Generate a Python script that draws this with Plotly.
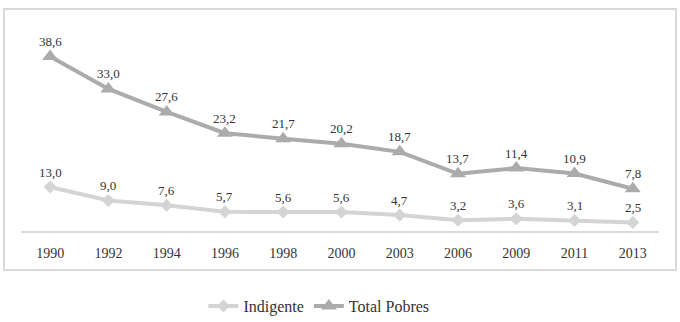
import plotly.graph_objects as go

years = ["1990", "1992", "1994", "1996", "1998", "2000", "2003", "2006", "2009", "2011", "2013"]
indigente = [13.0, 9.0, 7.6, 5.7, 5.6, 5.6, 4.7, 3.2, 3.6, 3.1, 2.5]
# Total Pobres line is drawn stacked on Indigente; increments
total_pobres_plot = [38.6, 33.0, 27.6, 23.2, 21.7, 20.2, 18.7, 13.7, 15.0, 13.9, 10.0]
total_pobres_labels = [38.6, 33.0, 27.6, 23.2, 21.7, 20.2, 18.7, 13.7, 11.4, 10.9, 7.8]


def fmt(v):
    return f"{v:.1f}".replace(".", ",")


FONT = "Liberation Serif"
TXT = "#333333"

fig = go.Figure()
fig.add_trace(go.Scatter(
    x=years, y=indigente, name="Indigente", stackgroup="s", fill="none",
    mode="lines+markers",
    line=dict(color="#d4d4d4", width=4),
    marker=dict(symbol="diamond", size=10, color="#d4d4d4"),
))
fig.add_trace(go.Scatter(
    x=years, y=total_pobres_plot, name="Total Pobres", stackgroup="s", fill="none",
    mode="lines+markers",
    line=dict(color="#ababab", width=4),
    marker=dict(symbol="triangle-up", size=14, color="#ababab"),
))

annotations = []
for i, yr in enumerate(years):
    annotations.append(dict(x=i, y=indigente[i], text=fmt(indigente[i]), showarrow=False,
                            yshift=15, yanchor="middle",
                            font=dict(family=FONT, size=13, color=TXT)))
    annotations.append(dict(x=i, y=indigente[i] + total_pobres_plot[i],
                            text=fmt(total_pobres_labels[i]), showarrow=False,
                            yshift=15, yanchor="middle",
                            font=dict(family=FONT, size=13, color=TXT)))

fig.update_layout(
    width=680, height=322,
    margin=dict(l=21, r=21, t=28, b=91, autoexpand=False),
    paper_bgcolor="white", plot_bgcolor="white",
    font=dict(family=FONT, size=14, color=TXT),
    showlegend=True,
    legend=dict(orientation="h", x=0.467, xanchor="center", y=-0.37, yanchor="middle",
                font=dict(family=FONT, size=16, color=TXT), traceorder="normal"),
    xaxis=dict(type="category", range=[-0.5, 10.45], showgrid=False, zeroline=False,
               showline=True, linecolor="#dadada", linewidth=2,
               ticks="outside", ticklen=8, tickcolor="rgba(0,0,0,0)",
               tickfont=dict(family=FONT, size=14, color=TXT), automargin=False),
    yaxis=dict(range=[0, 60], showgrid=False, zeroline=False, showline=False,
               showticklabels=False, ticks="", automargin=False),
    annotations=annotations,
    shapes=[dict(type="rect", xref="paper", yref="paper",
                 x0=-0.0266, x1=1.0266, y0=-0.192, y1=1.0936,
                 line=dict(color="#dadada", width=2), fillcolor="rgba(0,0,0,0)",
                 layer="below")],
    hovermode=False,
)

fig.write_html("out.html", config={"displayModeBar": False},
               post_script="document.body.style.margin='0px';")
